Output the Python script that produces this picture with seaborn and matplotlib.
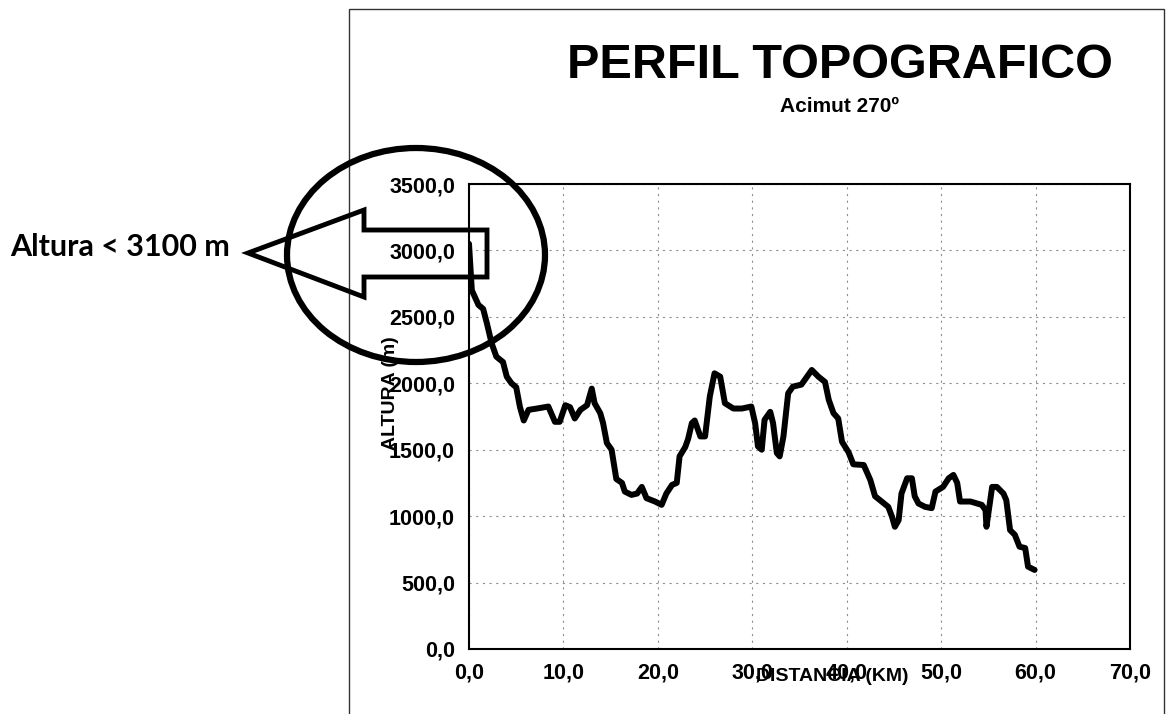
import matplotlib
matplotlib.use("Agg")
import numpy as np
import pandas as pd
import matplotlib.pyplot as plt
import seaborn as sns
from matplotlib.patches import Ellipse, Polygon, Rectangle
from matplotlib.transforms import Affine2D
from matplotlib.ticker import FuncFormatter

# Perfil (distancia en km, altura en m)
distancia_km = [0.0, 0.3, 1.0, 1.5, 1.9, 2.4, 2.9, 3.6, 4.0, 4.5, 5.0, 5.4, 5.8, 6.3,
                7.2, 8.4, 9.1, 9.6, 10.2, 10.7, 11.2, 11.8, 12.5, 13.0, 13.3, 13.9,
                14.2, 14.6, 15.1, 15.6, 16.2, 16.5, 17.2, 17.8, 18.3, 18.8, 19.7,
                20.4, 20.9, 21.5, 22.0, 22.3, 22.9, 23.2, 23.6, 23.9, 24.5, 25.0,
                25.5, 26.0, 26.6, 27.1, 28.0, 28.9, 29.9, 30.3, 30.6, 31.0, 31.3,
                31.9, 32.2, 32.6, 32.9, 33.3, 33.8, 34.3, 35.2, 35.8, 36.3, 37.0,
                37.7, 38.1, 38.6, 39.1, 39.5, 40.2, 40.7, 41.8, 42.5, 43.0, 43.7,
                44.4, 44.8, 45.1, 45.5, 45.8, 46.4, 46.9, 47.2, 47.6, 48.3, 49.0,
                49.4, 50.2, 50.8, 51.3, 51.7, 52.0, 53.1, 54.3, 54.7, 54.8, 55.0,
                55.4, 55.9, 56.6, 56.9, 57.3, 57.8, 58.3, 58.9, 59.2, 59.9]
altura_m = [3050, 2700, 2590, 2560, 2450, 2300, 2200, 2160, 2050, 2000, 1970, 1820,
            1720, 1800, 1810, 1825, 1710, 1710, 1835, 1820, 1735, 1800, 1835, 1960,
            1850, 1775, 1700, 1550, 1500, 1280, 1250, 1185, 1160, 1170, 1220, 1135,
            1110, 1085, 1170, 1235, 1250, 1450, 1520, 1580, 1700, 1720, 1600, 1600,
            1900, 2075, 2050, 1850, 1810, 1810, 1825, 1700, 1525, 1500, 1725, 1785,
            1700, 1475, 1450, 1600, 1925, 1975, 1990, 2050, 2100, 2050, 2010, 1875,
            1775, 1735, 1560, 1480, 1390, 1385, 1272, 1150, 1110, 1070, 995, 920,
            970, 1170, 1285, 1285, 1150, 1095, 1070, 1060, 1185, 1220, 1285, 1310,
            1250, 1110, 1110, 1085, 1045, 920, 1020, 1220, 1220, 1170, 1120, 895,
            860, 770, 760, 620, 595]

x_ticks = [0, 10, 20, 30, 40, 50, 60, 70]
y_ticks = [0, 500, 1000, 1500, 2000, 2500, 3000, 3500]

titulo = "PERFIL TOPOGRAFICO"
subtitulo = "Acimut 270º"
nota = "Altura < 3100 m"

sns.set_style("whitegrid")
plt.rcParams['font.family'] = ['Liberation Sans', 'DejaVu Sans']
plt.rcParams['text.color'] = 'black'
plt.rcParams['axes.labelcolor'] = 'black'

W, H = 1168, 714
fig = plt.figure(figsize=(W / 100, H / 100), dpi=100)
ax = fig.add_axes([469 / W, 1 - 649 / H, 661 / W, 465 / H])

df = pd.DataFrame({"Distancia": distancia_km, "Altura": altura_m})
sns.lineplot(data=df, x="Distancia", y="Altura", color="black", linewidth=4.3, ax=ax)
ax.lines[0].set_solid_joinstyle("round")
ax.lines[0].set_solid_capstyle("round")

ax.set_xlim(0, 70)
ax.set_ylim(0, 3500)
ax.set_xticks(x_ticks)
ax.set_yticks(y_ticks)
coma = FuncFormatter(lambda v, p: f"{v:.1f}".replace(".", ","))
ax.xaxis.set_major_formatter(coma)
ax.yaxis.set_major_formatter(coma)

ax.grid(True, color="#909090", linestyle=(0, (2, 4)), linewidth=0.8)
for s in ax.spines.values():
    s.set_color("black")
    s.set_linewidth(1.5)
ax.tick_params(axis="both", labelsize=15.5, length=3, direction="out",
               color="black", pad=7, labelcolor="black")
for lab in ax.get_xticklabels() + ax.get_yticklabels():
    lab.set_fontweight("bold")

# etiquetas de ejes superpuestas a los numeros, como en el original
ax.set_xlabel("DISTANCIA (KM)", fontsize=14, fontweight="bold", va="center")
ax.xaxis.set_label_coords(0.549, -0.060)
ax.set_ylabel("ALTURA (m)", fontsize=14, fontweight="bold", va="center")
ax.yaxis.set_label_coords(-0.1195, 0.5505)

fig.text(840 / W, 1 - 66 / H, titulo, fontsize=35, fontweight="bold",
         ha="center", va="center")
fig.text(840 / W, 1 - 106 / H, subtitulo, fontsize=15, fontweight="bold",
         ha="center", va="center")

# anotacion en pixeles (origen arriba a la izquierda)
pix = Affine2D().scale(1 / W, -1 / H).translate(0, 1) + fig.transFigure

marco = Rectangle((349, 9), 815, 720, fill=False, edgecolor="#333333",
                  linewidth=1.0, transform=pix, zorder=5)
fig.add_artist(marco)

circulo = Ellipse((416, 255), 258, 214, fill=False, edgecolor="black",
                  linewidth=4.5, transform=pix, zorder=6)
fig.add_artist(circulo)

flecha = Polygon([(248, 253), (364, 210), (364, 230), (487, 230), (487, 277),
                  (364, 277), (364, 297)], closed=True, fill=False,
                 edgecolor="black", linewidth=3.5, joinstyle="miter",
                 transform=pix, zorder=6)
fig.add_artist(flecha)

fig.text(10, 247, nota, transform=pix, fontsize=22, fontweight="bold",
         family=["Lato", "DejaVu Sans"], ha="left", va="center")

fig.savefig("out.png", dpi=100)
